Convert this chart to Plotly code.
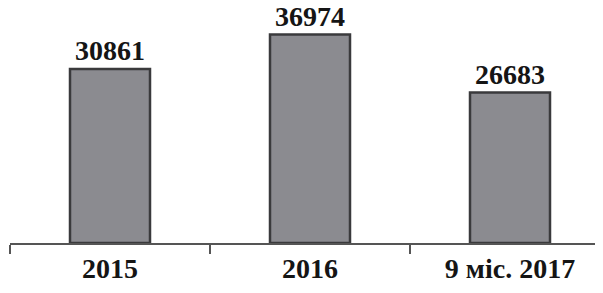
import plotly.graph_objects as go

categories = ["2015", "2016", "9 міс. 2017"]
values = [30861, 36974, 26683]
value_labels = ["30861", "36974", "26683"]

font_family = "Liberation Serif"

fig = go.Figure()
fig.add_trace(go.Bar(
    x=categories,
    y=values,
    width=0.4,
    marker=dict(color="#8b8b90", line=dict(color="#3a3a3c", width=2.5)),
    text=["<b>%s</b>" % t for t in value_labels],
    textposition="outside",
    constraintext="none",
    cliponaxis=False,
    textfont=dict(family=font_family, size=28, color="#151515"),
    hoverinfo="skip",
))

fig.update_layout(
    width=603, height=293,
    margin=dict(l=2, r=8, t=0, b=58),
    paper_bgcolor="white",
    plot_bgcolor="white",
    showlegend=False,
    bargap=0.6,
    xaxis=dict(
        type="category",
        range=[-0.5, 2.465],
        tickson="boundaries",
        ticks="outside",
        ticklen=9,
        tickwidth=1.5,
        tickcolor="#555555",
        showline=True,
        linecolor="#555555",
        linewidth=1.5,
        showgrid=False,
        tickvals=categories,
        ticktext=["<b>%s</b>" % c for c in categories],
        tickfont=dict(family=font_family, size=28, color="#151515"),
        ticklabelstandoff=0,
    ),
    yaxis=dict(
        range=[0, 41674],
        visible=False,
        showgrid=False,
        zeroline=False,
    ),
)

fig.write_html("out.html")
